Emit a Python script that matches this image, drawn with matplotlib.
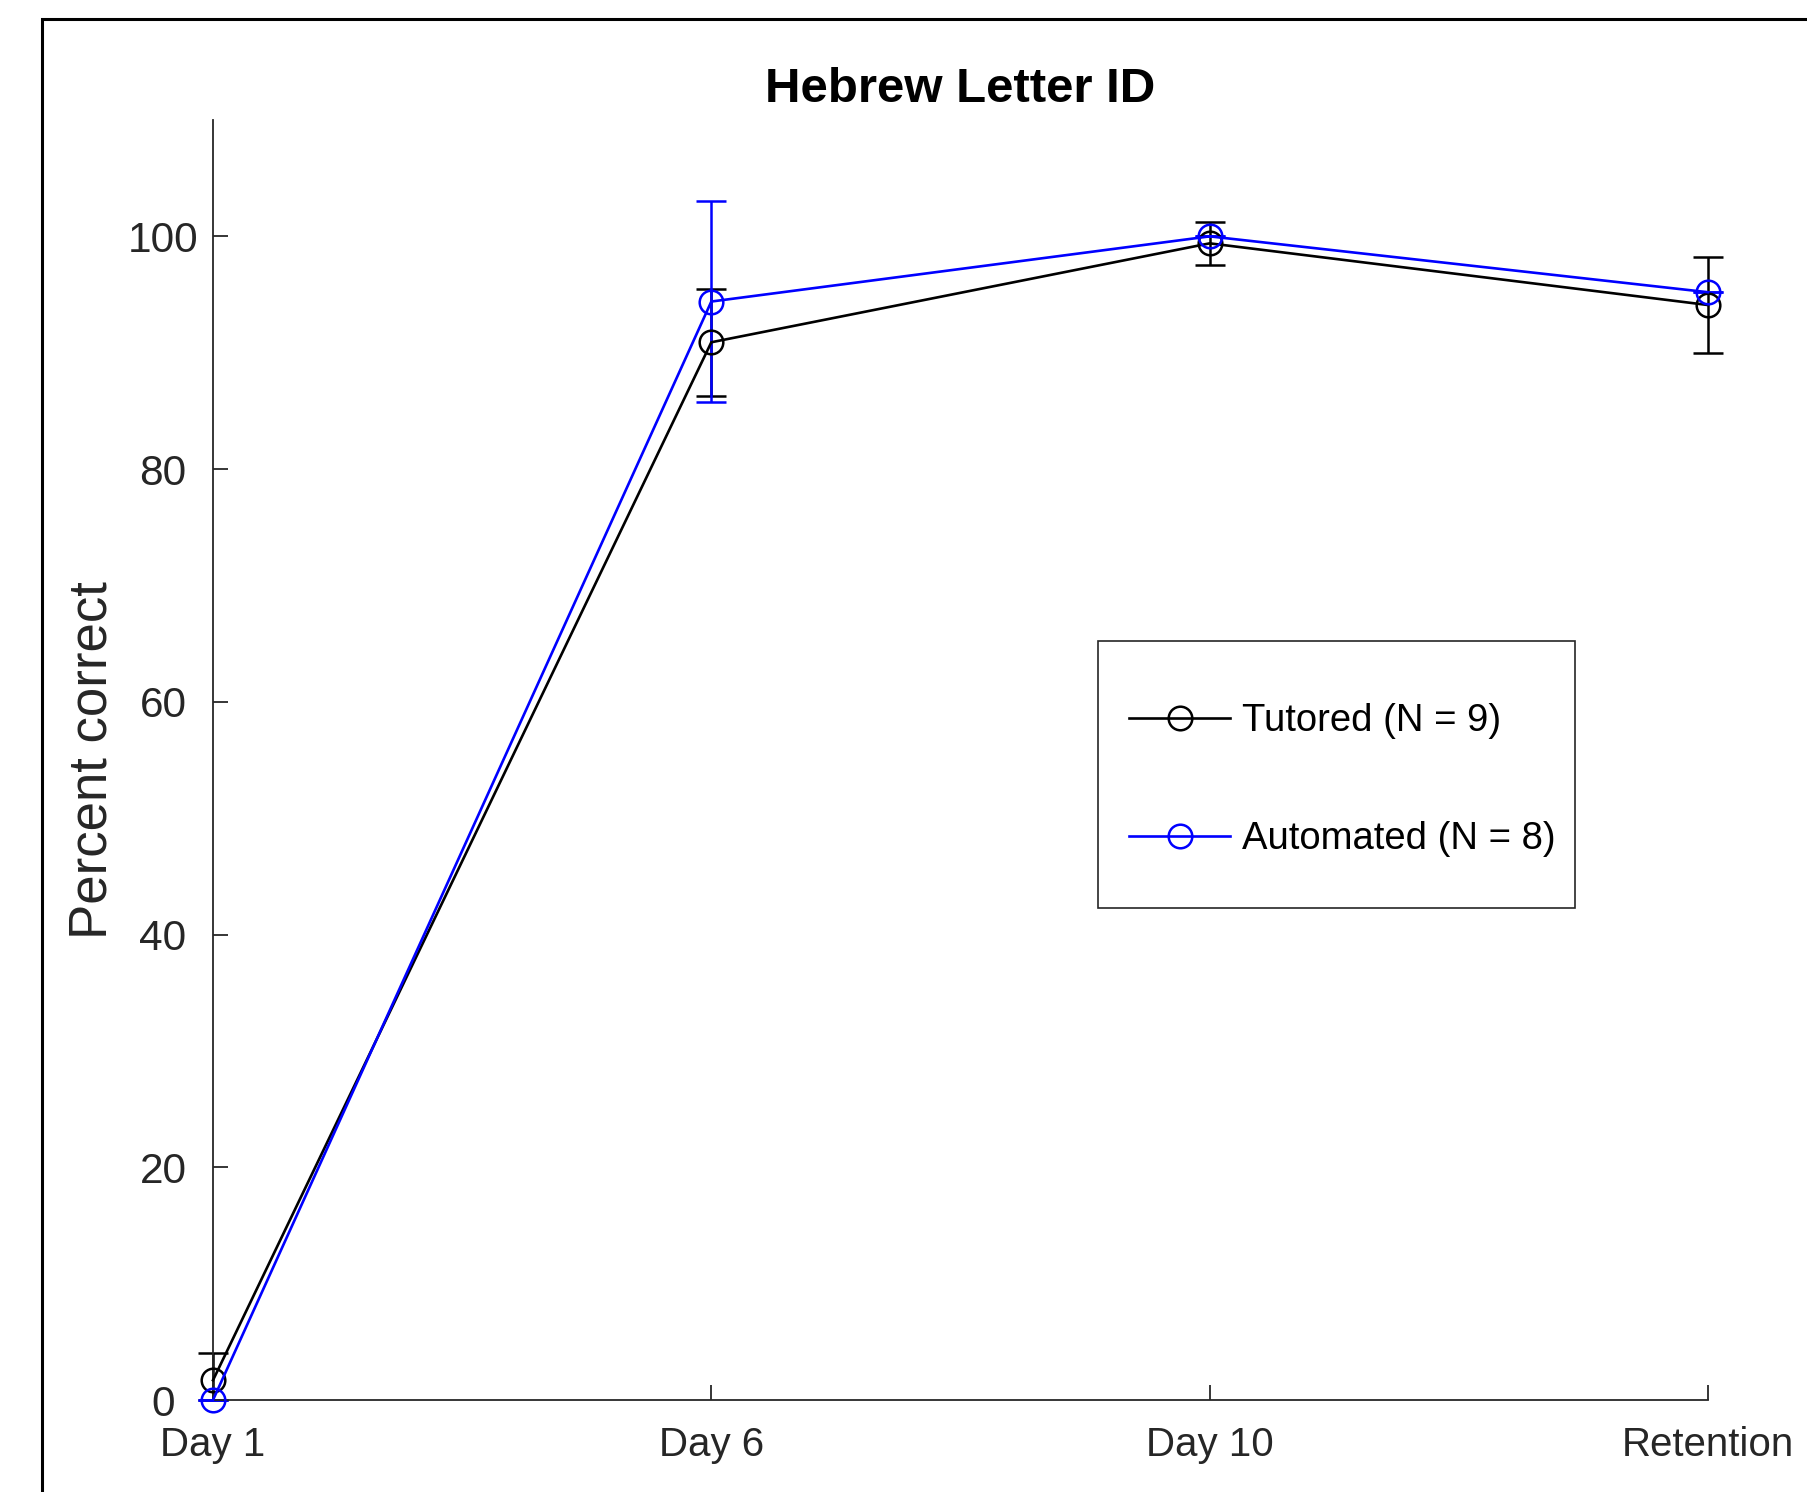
import matplotlib.pyplot as plt
from matplotlib.patches import Rectangle

plt.rcParams['font.family'] = ['Liberation Sans', 'DejaVu Sans']

days = ['Day 1', 'Day 6', 'Day 10', 'Retention']
x = [1, 2, 3, 4]

tutored = [1.7, 90.9, 99.4, 94.1]
tutored_lo = [1.7, 4.6, 1.85, 4.15]
tutored_hi = [2.3, 4.6, 1.85, 4.15]
automated = [0.0, 94.4, 100.0, 95.2]
automated_err = [0.0, 8.6, 0.0, 0.0]

W, H = 1807, 1492
fig = plt.figure(figsize=(W / 100, H / 100), dpi=100)
ax = fig.add_axes([213 / W, (H - 1400) / H, (1708 - 213) / W, (1400 - 120) / H])

axcol = '#262626'
series = [
    (tutored, [tutored_lo, tutored_hi], 'black', 'Tutored (N = 9)'),
    (automated, automated_err, 'blue', 'Automated (N = 8)'),
]
handles = []
for vals, err, col, lab in series:
    _, caps, bars = ax.errorbar(x, vals, yerr=err, fmt='none', ecolor=col,
                                elinewidth=1.8, capsize=11, capthick=1.8)
    for a in list(caps) + list(bars):
        a.set_clip_on(False)
    h, = ax.plot(x, vals, '-o', color=col, lw=1.9, ms=17, mfc='none',
                 mew=1.8, clip_on=False, zorder=3, label=lab)
    handles.append(h)

ax.set_xlim(1, 4)
ax.set_ylim(0, 110)
ax.set_xticks(x)
ax.set_xticklabels(days)
ax.set_yticks([0, 20, 40, 60, 80, 100])
for s in ['top', 'right']:
    ax.spines[s].set_visible(False)
for s in ['left', 'bottom']:
    ax.spines[s].set_color(axcol)
    ax.spines[s].set_linewidth(1.3)
ax.tick_params(direction='in', length=11, width=1.3, color=axcol,
               labelcolor=axcol)
ax.tick_params(axis='y', pad=36, labelsize=30.5)
ax.tick_params(axis='x', pad=19, labelsize=29)
for t in ax.get_yticklabels():
    t.set_horizontalalignment('center')

ax.set_ylabel('Percent correct', fontsize=38, color=axcol, labelpad=7)
ax.set_title('Hebrew Letter ID', fontsize=35.5, fontweight='bold', pad=13)

# legend with manual box
leg = fig.legend(handles=handles, loc='upper left', frameon=False,
                 bbox_to_anchor=(1129 / W, 1 - 703 / H), fontsize=27.5,
                 handlelength=2.65, handletextpad=0.3, labelspacing=2.15,
                 borderpad=0, borderaxespad=0)
fig.add_artist(Rectangle((1098 / W, 1 - 908 / H), (1575 - 1098) / W, (908 - 641) / H,
                         transform=fig.transFigure, fill=False, ec=axcol, lw=1.2))

# outer frame
fig.add_artist(Rectangle((42 / W, -0.1), 1.2, 1.1 - 19.5 / H,
                         transform=fig.transFigure, fill=False, ec='black', lw=2.2))

fig.savefig('out.png', dpi=100)
